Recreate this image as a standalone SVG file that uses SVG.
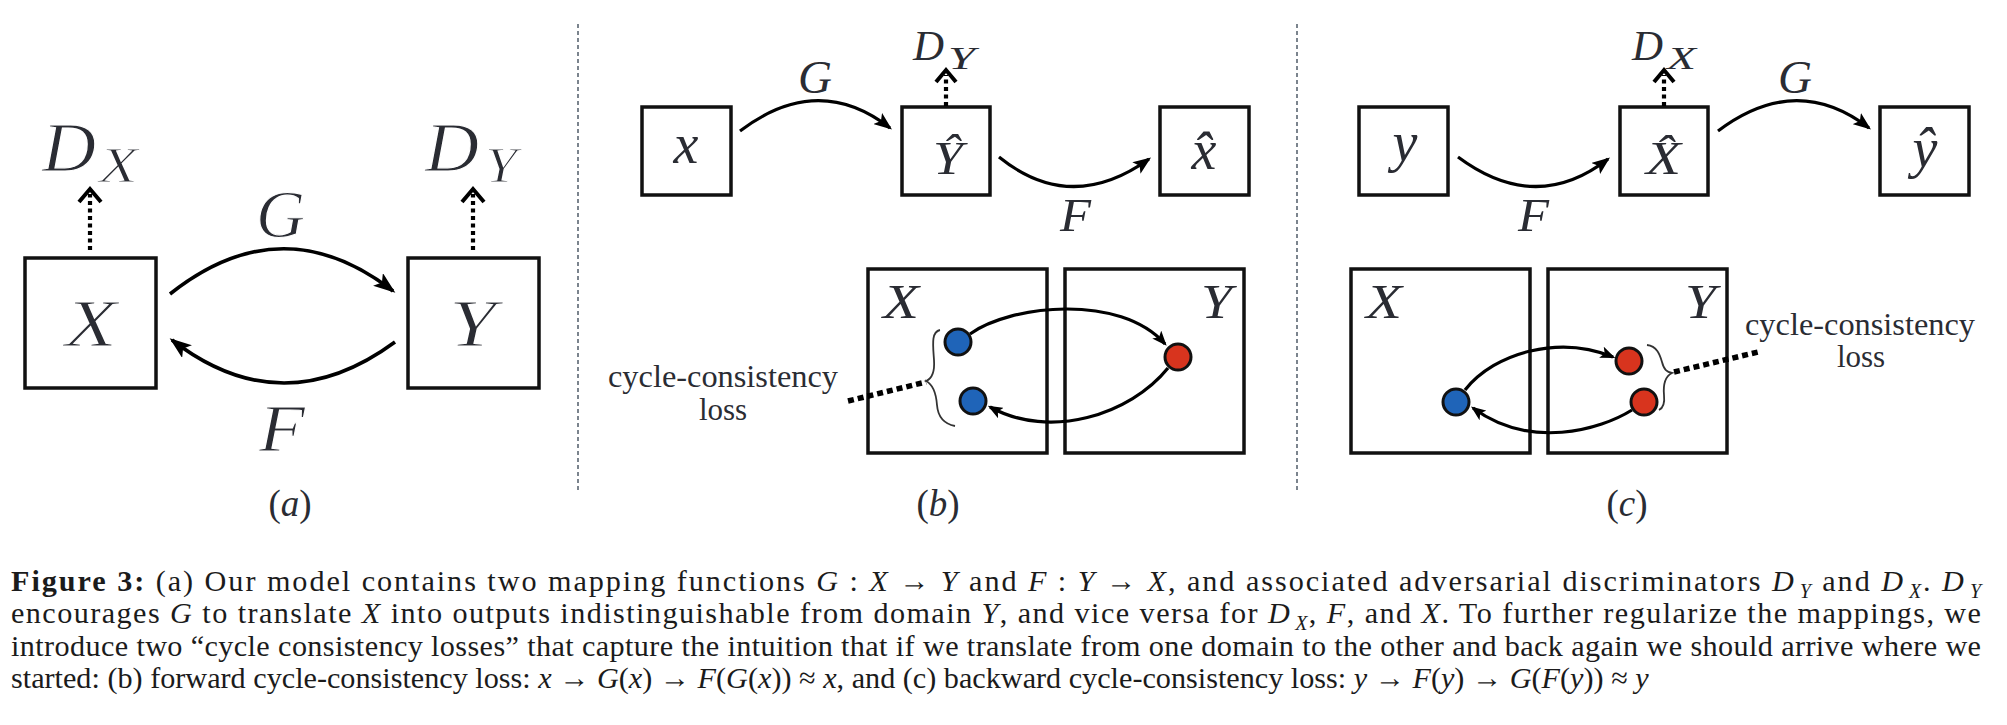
<svg xmlns="http://www.w3.org/2000/svg" width="2007" height="725" viewBox="0 0 2007 725">
<style>
.box{fill:none;stroke:#111;stroke-width:3.5}
.arc{fill:none;stroke:#000;stroke-width:3.6}
.arc2{fill:none;stroke:#000;stroke-width:3.2}
.dv{fill:none;stroke:#000;stroke-width:4.2;stroke-dasharray:4 3.5}
.chev{fill:none;stroke:#000;stroke-width:4;stroke-linejoin:miter}
.loss{fill:none;stroke:#000;stroke-width:5.5;stroke-dasharray:6 4}
.brace{fill:none;stroke:#333;stroke-width:1.8}
.sep{stroke:#5b6672;stroke-width:1.6;stroke-dasharray:4 3}
.m{font-family:"Liberation Serif",serif;font-style:italic;fill:#2a2c33}
.thin{stroke:#fff;stroke-width:1.1}
.rm{font-family:"Liberation Serif",serif;fill:#2a2c33}
.cap{font-family:"Liberation Serif",serif;font-size:30.2px;fill:#1b1b1b}
.i{font-style:italic}
.blue{fill:#1f64b8;stroke:#111;stroke-width:3}
.red{fill:#d8341e;stroke:#111;stroke-width:3}
</style>
<defs>
<marker id="ahL" markerUnits="userSpaceOnUse" viewBox="0 0 22 16" markerWidth="22" markerHeight="16" refX="19" refY="8" orient="auto"><path d="M0,0 L22,8 L0,16 L5,8 z" fill="#000"/></marker>
<marker id="ahS" markerUnits="userSpaceOnUse" viewBox="0 0 18 14" markerWidth="18" markerHeight="14" refX="15.5" refY="7" orient="auto"><path d="M0,0 L18,7 L0,14 L4,7 z" fill="#000"/></marker>
<marker id="ahD" markerUnits="userSpaceOnUse" viewBox="0 0 15 12" markerWidth="15" markerHeight="12" refX="12.5" refY="6" orient="auto"><path d="M0,0 L15,6 L0,12 L3.5,6 z" fill="#000"/></marker>
</defs>
<rect width="2007" height="725" fill="#fff"/>

<!-- separators -->
<line class="sep" x1="578" y1="24" x2="578" y2="490"/>
<line class="sep" x1="1297" y1="24" x2="1297" y2="490"/>

<!-- panel (a) -->
<g id="a-X"><rect class="box" x="25" y="258" width="131" height="130"/><text class="m thin" x="65" y="346" font-size="67" textLength="52" lengthAdjust="spacingAndGlyphs">X</text></g>
<g id="a-Y"><rect class="box" x="408" y="258" width="131" height="130"/><text class="m thin" x="449" y="346" font-size="67" textLength="47" lengthAdjust="spacingAndGlyphs">Y</text></g>
<g id="a-DX"><text class="m thin" x="42" y="171" font-size="69"><tspan textLength="54" lengthAdjust="spacingAndGlyphs">D</tspan><tspan x="99" y="182" font-size="50" textLength="39" lengthAdjust="spacingAndGlyphs">X</tspan></text></g>
<g id="a-DY"><text class="m thin" x="425" y="171" font-size="69"><tspan textLength="54" lengthAdjust="spacingAndGlyphs">D</tspan><tspan x="485" y="182" font-size="50" textLength="32" lengthAdjust="spacingAndGlyphs">Y</tspan></text></g>
<text class="m thin" x="256" y="237" font-size="68" textLength="49" lengthAdjust="spacingAndGlyphs">G</text>
<text class="m thin" x="259" y="451" font-size="68" textLength="46" lengthAdjust="spacingAndGlyphs">F</text>
<text class="rm" x="290" y="516" font-size="37" text-anchor="middle">(<tspan class="i">a</tspan>)</text>

<!-- panel (b) -->
<g id="b-x"><rect class="box" x="642" y="107" width="89" height="88"/><text class="m" x="686" y="163" font-size="56" text-anchor="middle">x</text></g>
<g id="b-Yhat"><rect class="box" x="902" y="107" width="88" height="88"/><text class="m" x="933" y="174" font-size="46" textLength="30" lengthAdjust="spacingAndGlyphs">Ŷ</text></g>
<g id="b-xhat"><rect class="box" x="1160" y="107" width="89" height="88"/><text class="m" x="1204" y="169" font-size="56" text-anchor="middle">x̂</text></g>
<g id="b-DY"><text class="m" x="913" y="60" font-size="42"><tspan textLength="31" lengthAdjust="spacingAndGlyphs">D</tspan><tspan x="948" y="69" font-size="31" textLength="27" lengthAdjust="spacingAndGlyphs">Y</tspan></text></g>
<text class="m" x="798" y="93" font-size="46" textLength="34" lengthAdjust="spacingAndGlyphs">G</text>
<text class="m" x="1060" y="231" font-size="46" textLength="31" lengthAdjust="spacingAndGlyphs">F</text>
<g id="b-domX"><rect class="box" x="868" y="269" width="179" height="184"/><text class="m" x="883" y="318" font-size="48" textLength="36" lengthAdjust="spacingAndGlyphs">X</text></g>
<g id="b-domY"><rect class="box" x="1065" y="269" width="179" height="184"/><text class="m" x="1201" y="318" font-size="48" textLength="31" lengthAdjust="spacingAndGlyphs">Y</text></g>
<g id="b-x1"><circle class="blue" cx="958" cy="342" r="13"/></g>
<g id="b-x2"><circle class="blue" cx="973" cy="401" r="13"/></g>
<g id="b-y1"><circle class="red" cx="1178" cy="357" r="13"/></g>
<g id="b-loss"><path class="brace" d="M940 330 C931 332,933 345,934 360 C935 374,931 379,926 381 C932 384,936 392,937 405 C938 418,945 424,955 426"/>
<text class="rm" x="723" y="387" font-size="31" text-anchor="middle" textLength="230" lengthAdjust="spacingAndGlyphs">cycle-consistency</text>
<text class="rm" x="723" y="420" font-size="31" text-anchor="middle">loss</text></g>
<text class="rm" x="938" y="516" font-size="37" text-anchor="middle">(<tspan class="i">b</tspan>)</text>

<!-- panel (c) -->
<g id="c-y"><rect class="box" x="1359" y="107" width="89" height="88"/><text class="m" x="1405" y="161" font-size="56" text-anchor="middle">y</text></g>
<g id="c-Xhat"><rect class="box" x="1620" y="107" width="88" height="88"/><text class="m" x="1646" y="174" font-size="46" textLength="35" lengthAdjust="spacingAndGlyphs">X̂</text></g>
<g id="c-yhat"><rect class="box" x="1880" y="107" width="89" height="88"/><text class="m" x="1925" y="167" font-size="56" text-anchor="middle">ŷ</text></g>
<g id="c-DX"><text class="m" x="1632" y="60" font-size="42"><tspan textLength="31" lengthAdjust="spacingAndGlyphs">D</tspan><tspan x="1667" y="69" font-size="31" textLength="29" lengthAdjust="spacingAndGlyphs">X</tspan></text></g>
<text class="m" x="1778" y="93" font-size="46" textLength="34" lengthAdjust="spacingAndGlyphs">G</text>
<text class="m" x="1518" y="231" font-size="46" textLength="31" lengthAdjust="spacingAndGlyphs">F</text>
<g id="c-domX"><rect class="box" x="1351" y="269" width="179" height="184"/><text class="m" x="1366" y="318" font-size="48" textLength="36" lengthAdjust="spacingAndGlyphs">X</text></g>
<g id="c-domY"><rect class="box" x="1548" y="269" width="179" height="184"/><text class="m" x="1685" y="318" font-size="48" textLength="31" lengthAdjust="spacingAndGlyphs">Y</text></g>
<g id="c-x1"><circle class="blue" cx="1456" cy="402" r="13"/></g>
<g id="c-y1"><circle class="red" cx="1629" cy="361" r="13"/></g>
<g id="c-y2"><circle class="red" cx="1644" cy="402" r="13"/></g>
<g id="c-loss"><path class="brace" d="M1647 345 C1657 346,1660 355,1662 362 C1664 370,1667 372,1672 373 C1666 376,1663 384,1664 395 C1665 404,1663 408,1659 410"/>
<text class="rm" x="1860" y="335" font-size="31" text-anchor="middle" textLength="230" lengthAdjust="spacingAndGlyphs">cycle-consistency</text>
<text class="rm" x="1861" y="367" font-size="31" text-anchor="middle">loss</text></g>
<text class="rm" x="1627" y="516" font-size="37" text-anchor="middle">(<tspan class="i">c</tspan>)</text>

<!-- connectors -->
<g id="connectors">
<path class="arc" d="M170 294 Q282 205 393 291" marker-end="url(#ahL)"/>
<path class="arc" d="M395 342 Q282 425 172 340" marker-end="url(#ahL)"/>
<line class="dv" x1="90" y1="250" x2="90" y2="194"/>
<path class="chev" d="M79 202 L90 189 L101 202"/>
<line class="dv" x1="473" y1="250" x2="473" y2="194"/>
<path class="chev" d="M462 202 L473 189 L484 202"/>

<path class="arc2" d="M740 131 Q818 72 890 128" marker-end="url(#ahS)"/>
<path class="arc2" d="M999 157 Q1071 215 1149 159" marker-end="url(#ahS)"/>
<line class="dv" x1="946" y1="106" x2="946" y2="75"/>
<path class="chev" d="M936 82 L946 70 L956 82"/>
<path class="arc2" d="M970 334 C1010 305,1120 293,1165 344" marker-end="url(#ahD)"/>
<path class="arc2" d="M1168 368 C1130 415,1050 440,990 407" marker-end="url(#ahD)"/>
<line class="loss" x1="848" y1="401" x2="926" y2="382"/>

<path class="arc2" d="M1458 157 Q1536 215 1608 159" marker-end="url(#ahS)"/>
<path class="arc2" d="M1718 131 Q1796 72 1869 128" marker-end="url(#ahS)"/>
<line class="dv" x1="1664" y1="106" x2="1664" y2="75"/>
<path class="chev" d="M1654 82 L1664 70 L1674 82"/>
<path class="arc2" d="M1465 390 C1495 352,1560 335,1613 357" marker-end="url(#ahD)"/>
<path class="arc2" d="M1632 410 C1600 430,1530 450,1473 408" marker-end="url(#ahD)"/>
<line class="loss" x1="1674" y1="372" x2="1758" y2="352"/>
</g>

<!-- caption -->
<g id="caption">
<text class="cap" x="11" y="591" textLength="1970" lengthAdjust="spacing"><tspan font-weight="bold">Figure 3:</tspan> (a) Our model contains two mapping functions <tspan class="i">G</tspan> : <tspan class="i">X</tspan> → <tspan class="i">Y</tspan> and <tspan class="i">F</tspan> : <tspan class="i">Y</tspan> → <tspan class="i">X</tspan>, and associated adversarial discriminators <tspan class="i">D</tspan><tspan class="i" font-size="20" dx="4" dy="7">Y</tspan><tspan dy="-7"> and </tspan><tspan class="i">D</tspan><tspan class="i" font-size="20" dx="4" dy="7">X</tspan><tspan dy="-7">. </tspan><tspan class="i">D</tspan><tspan class="i" font-size="20" dx="4" dy="7">Y</tspan></text>
<text class="cap" x="11" y="623" textLength="1970" lengthAdjust="spacing">encourages <tspan class="i">G</tspan> to translate <tspan class="i">X</tspan> into outputs indistinguishable from domain <tspan class="i">Y</tspan>, and vice versa for <tspan class="i">D</tspan><tspan class="i" font-size="20" dx="4" dy="7">X</tspan><tspan dy="-7">, </tspan><tspan class="i">F</tspan>, and <tspan class="i">X</tspan>. To further regularize the mappings, we</text>
<text class="cap" x="11" y="656" textLength="1970" lengthAdjust="spacing">introduce two “cycle consistency losses” that capture the intuition that if we translate from one domain to the other and back again we should arrive where we</text>
<text class="cap" x="11" y="688">started: (b) forward cycle-consistency loss: <tspan class="i">x</tspan> → <tspan class="i">G</tspan>(<tspan class="i">x</tspan>) → <tspan class="i">F</tspan>(<tspan class="i">G</tspan>(<tspan class="i">x</tspan>)) ≈ <tspan class="i">x</tspan>, and (c) backward cycle-consistency loss: <tspan class="i">y</tspan> → <tspan class="i">F</tspan>(<tspan class="i">y</tspan>) → <tspan class="i">G</tspan>(<tspan class="i">F</tspan>(<tspan class="i">y</tspan>)) ≈ <tspan class="i">y</tspan></text>
</g>
</svg>
